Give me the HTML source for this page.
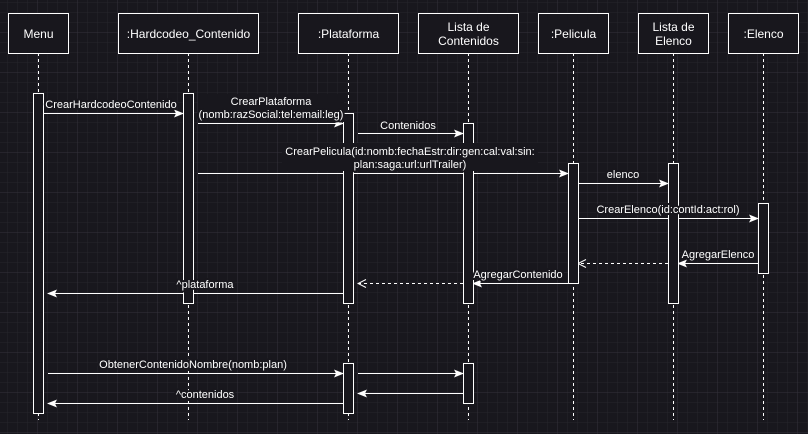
<!DOCTYPE html>
<html><head><meta charset="utf-8"><style>
html,body{margin:0;padding:0;background:#18171d;}
svg{display:block;font-family:"Liberation Sans",sans-serif;}
.lb text{paint-order:stroke;stroke:#18171d;stroke-width:4px;stroke-linejoin:round;}
</style></head><body>
<svg width="808" height="434" viewBox="0 0 808 434" xmlns="http://www.w3.org/2000/svg">
<defs>
<pattern id="g" width="10" height="10" patternUnits="userSpaceOnUse" x="-2" y="-7"><path d="M10 0V10M0 10H10" stroke="#26252b" stroke-width="1" fill="none"/></pattern>
<pattern id="G" width="40" height="40" patternUnits="userSpaceOnUse" x="-2" y="-7"><path d="M40 0V40M0 40H40" stroke="#33323a" stroke-width="1" fill="none"/></pattern>
<marker id="a" markerWidth="10" markerHeight="8" refX="9" refY="4" orient="auto" markerUnits="userSpaceOnUse"><path d="M0 0L10 4L0 8L2 4Z" fill="#fff"/></marker>
<marker id="o" markerWidth="10" markerHeight="10" refX="9" refY="5" orient="auto" markerUnits="userSpaceOnUse"><path d="M1 1L9 5L1 9" fill="none" stroke="#fff" stroke-width="1"/></marker>
</defs>
<rect width="808" height="434" fill="#18171d"/>
<rect width="808" height="434" fill="url(#g)"/>
<rect width="808" height="434" fill="url(#G)"/>
<g stroke="#fff" stroke-dasharray="3,3" stroke-width="1">
<line x1="38.5" y1="53" x2="38.5" y2="420"/>
<line x1="188.5" y1="53" x2="188.5" y2="420"/>
<line x1="348.5" y1="53" x2="348.5" y2="420"/>
<line x1="468.5" y1="53" x2="468.5" y2="420"/>
<line x1="573.5" y1="53" x2="573.5" y2="420"/>
<line x1="673.5" y1="53" x2="673.5" y2="420"/>
<line x1="763.5" y1="53" x2="763.5" y2="420"/>
</g>
<g stroke="#fff" stroke-width="1" fill="none">
<line x1="43" y1="113.5" x2="183" y2="113.5" marker-end="url(#a)"/>
<line x1="198" y1="123.5" x2="343" y2="123.5" marker-end="url(#a)"/>
<line x1="358" y1="133.5" x2="463" y2="133.5" marker-end="url(#a)"/>
<line x1="198" y1="173.5" x2="568" y2="173.5" marker-end="url(#a)"/>
<line x1="578" y1="183.5" x2="668" y2="183.5" marker-end="url(#a)"/>
<line x1="578" y1="218.5" x2="758" y2="218.5" marker-end="url(#a)"/>
<line x1="758" y1="263.5" x2="678" y2="263.5" marker-end="url(#a)"/>
<line x1="668" y1="263.5" x2="578" y2="263.5" stroke-dasharray="3,3" marker-end="url(#o)"/>
<line x1="568" y1="283.5" x2="473" y2="283.5" marker-end="url(#a)"/>
<line x1="463" y1="283.5" x2="358" y2="283.5" stroke-dasharray="3,3" marker-end="url(#o)"/>
<line x1="343" y1="293.5" x2="48" y2="293.5" marker-end="url(#a)"/>
<line x1="48" y1="373.5" x2="343" y2="373.5" marker-end="url(#a)"/>
<line x1="358" y1="373.5" x2="463" y2="373.5" marker-end="url(#a)"/>
<line x1="463" y1="393.5" x2="358" y2="393.5" marker-end="url(#a)"/>
<line x1="343" y1="403.5" x2="48" y2="403.5" marker-end="url(#a)"/>
</g>
<g fill="#18171d" stroke="#fff" stroke-width="1">
<rect x="8.5" y="13.5" width="60" height="40"/>
<rect x="118.5" y="13.5" width="140" height="40"/>
<rect x="298.5" y="13.5" width="100" height="40"/>
<rect x="418.5" y="13.5" width="100" height="40"/>
<rect x="538.5" y="13.5" width="70" height="40"/>
<rect x="638.5" y="13.5" width="70" height="40"/>
<rect x="728.5" y="13.5" width="70" height="40"/>
<rect x="33.5" y="93.5" width="10" height="320"/>
<rect x="183.5" y="93.5" width="10" height="210"/>
<rect x="343.5" y="113.5" width="10" height="190"/>
<rect x="343.5" y="363.5" width="10" height="50"/>
<rect x="463.5" y="123.5" width="10" height="180"/>
<rect x="463.5" y="363.5" width="10" height="40"/>
<rect x="568.5" y="163.5" width="10" height="120"/>
<rect x="668.5" y="163.5" width="10" height="140"/>
<rect x="758.5" y="203.5" width="10" height="70"/>
</g>
<g fill="#fff" font-size="12" text-anchor="middle">
<text x="38.5" y="38">Menu</text>
<text x="188.5" y="38">:Hardcodeo_Contenido</text>
<text x="348.5" y="38">:Plataforma</text>
<text x="468.5" y="31">Lista de</text><text x="468.5" y="45">Contenidos</text>
<text x="573.5" y="38">:Pelicula</text>
<text x="673.5" y="31">Lista de</text><text x="673.5" y="45">Elenco</text>
<text x="763.5" y="38">:Elenco</text>
</g>
<g fill="#18171d">
<rect x="198" y="94" width="146" height="28"/>
<rect x="282" y="143" width="256" height="28"/>
</g>
<g class="lb" fill="#fff" font-size="11" text-anchor="middle">
<text x="111" y="108">CrearHardcodeoContenido</text>
<text x="271" y="105">CrearPlataforma</text>
<text x="271" y="118">(nomb:razSocial:tel:email:leg)</text>
<text x="408" y="129">Contenidos</text>
<text x="410" y="155">CrearPelicula(id:nomb:fechaEstr:dir:gen:cal:val:sin:</text>
<text x="410" y="168">plan:saga:url:urlTrailer)</text>
<text x="623" y="178">elenco</text>
<text x="668" y="213">CrearElenco(id:contId:act:rol)</text>
<text x="718" y="258">AgregarElenco</text>
<text x="518" y="278">AgregarContenido</text>
<text x="205" y="288">^plataforma</text>
<text x="193" y="368">ObtenerContenidoNombre(nomb:plan)</text>
<text x="205" y="398">^contenidos</text>
</g>
</svg>
</body></html>
